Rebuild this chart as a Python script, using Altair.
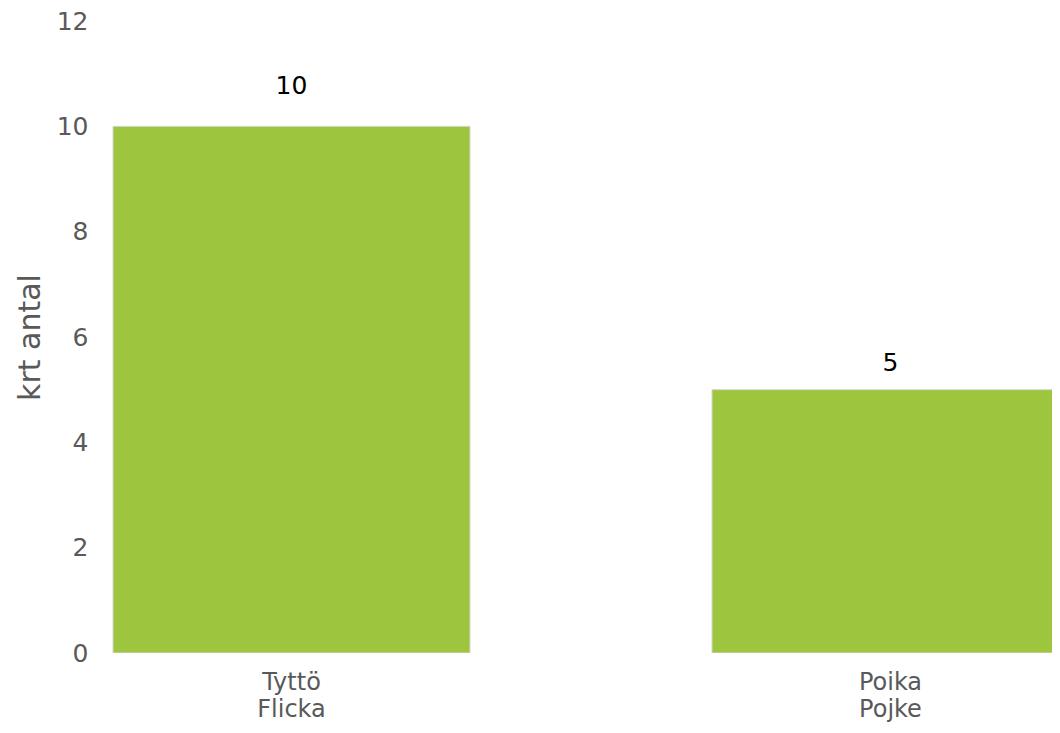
import altair as alt
import pandas as pd

categories = ["Tyttö\nFlicka", "Poika\nPojke"]
values = [10, 5]

df = pd.DataFrame({"cat": categories, "value": values})

W = 952
H = 632

x_enc = alt.X(
    "cat:N",
    sort=categories,
    scale=alt.Scale(range=[0, 982], paddingInner=0.404, paddingOuter=0.0217),
    axis=alt.Axis(
        title=None, labelAngle=0, domain=False, ticks=False,
        labelFontSize=24, labelColor="#595959", labelFont="DejaVu Sans",
        labelExpr="split(datum.label, '\\n')", labelPadding=17, labelLineHeight=27,
    ),
)

bars = alt.Chart(df).mark_bar(
    color="#9DC53E", stroke="#d6d6d6", strokeWidth=1, clip=True
).encode(
    x=x_enc,
    y=alt.Y(
        "value:Q",
        scale=alt.Scale(domain=[0, 12], nice=False),
        axis=alt.Axis(
            title="krt antal", values=[0, 2, 4, 6, 8, 10, 12],
            domain=False, ticks=False, grid=False,
            labelFontSize=25, labelColor="#595959", labelFont="DejaVu Sans",
            labelPadding=12,
            titleFontSize=30, titleColor="#595959", titleFont="DejaVu Sans",
            titleFontWeight="normal", titlePadding=11,
        ),
    ),
)

labels = alt.Chart(df).transform_calculate(
    ly="datum.value * 1.05 + 0.26"
).mark_text(
    fontSize=25, color="#000000", font="DejaVu Sans", baseline="middle", align="center"
).encode(
    x=alt.X("cat:N", sort=categories),
    y=alt.Y("ly:Q"),
    text=alt.Text("value:Q"),
)

chart = alt.layer(bars, labels).properties(
    width=W, height=H,
    autosize=alt.AutoSizeParams(type="none"),
    padding={"left": 92, "top": 13, "right": 0, "bottom": 72},
).configure_view(stroke=None)

chart.save("out.html", embed_options={"renderer": "svg", "actions": False})
